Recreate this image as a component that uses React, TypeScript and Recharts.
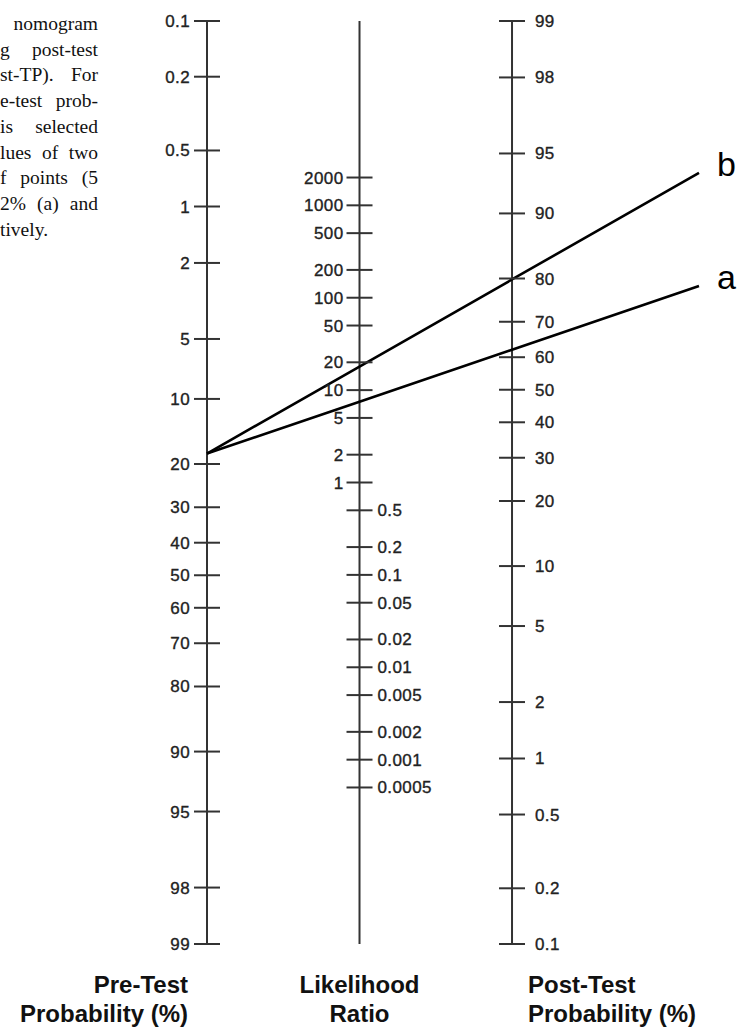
import { ComposedChart, XAxis, YAxis, Scatter, Line, ReferenceLine, LabelList } from "recharts"

// scale labels (percent for the two probability scales)
const preTicks = [0.1, 0.2, 0.5, 1, 2, 5, 10, 20, 30, 40, 50, 60, 70, 80, 90, 95, 98, 99]
const lrTicks = [2000, 1000, 500, 200, 100, 50, 20, 10, 5, 2, 1, 0.5, 0.2, 0.1, 0.05, 0.02, 0.01, 0.005, 0.002, 0.001, 0.0005]
const postTicks = [99, 98, 95, 90, 80, 70, 60, 50, 40, 30, 20, 10, 5, 2, 1, 0.5, 0.2, 0.1]

// the two worked examples: same pre-test probability, two likelihood ratios
const preTest = 18
const lineNames = ["a", "b"]
const lineLR = [7.5, 18]

const captionLines = ["nomogram", "g post-test", "st-TP). For", "e-test prob-", "is selected", "lues of two", "f points (5", "2% (a) and", "tively."]

const W = 748
const H = 1032
const FONT = "'Liberation Sans', Arial, sans-serif"

// nomogram geometry: pre-test at x=0, LR at x=0.5, post-test at x=1
const PRE_X = 0
const LR_X = 0.5
const POST_X = 1
const END_X = 1.613 // drawn lines run on past the post-test scale

const logit = (pct: number) => Math.log(pct / (100 - pct))
const pLo = Math.min(...preTicks)
const pHi = Math.max(...preTicks)
// centre both probability scales on the same vertical span
const shift = (-logit(pLo) - logit(pHi)) / 2
const vMax = (logit(pHi) - logit(pLo)) / 2

const preV = (p: number) => -logit(p) - shift
const postV = (p: number) => logit(p) + shift
const lrV = (lr: number) => Math.log(lr) / 2

const preData = preTicks.map((p) => ({ x: PRE_X, y: preV(p), label: String(p), side: "left" }))
const lrData = lrTicks.map((r) => ({ x: LR_X, y: lrV(r), label: String(r), side: r >= 1 ? "left" : "right" }))
const postData = postTicks.map((p) => ({ x: POST_X, y: postV(p), label: String(p), side: "right" }))

const lineData = lineLR.map((lr, i) => {
  const vL = preV(preTest)
  const vR = logit(preTest) + Math.log(lr) + shift
  return [PRE_X, LR_X, POST_X, END_X].map((x) => ({
    x,
    y: vL + (vR - vL) * x,
    tag: x === END_X ? lineNames[i] : undefined,
  }))
})

const makeTick = (leftGap: number, rightGap: number) => (props: any) => {
  const { cx, cy, payload } = props
  if (cx == null || cy == null) return <g />
  const left = payload.side === "left"
  return (
    <g>
      <line x1={cx - 13} x2={cx + 13} y1={cy} y2={cy} stroke="#333" strokeWidth={2} />
      <text
        x={left ? cx - leftGap : cx + rightGap}
        y={cy}
        dy={6}
        textAnchor={left ? "end" : "start"}
        fontFamily={FONT}
        fontSize={17}
        letterSpacing={0.4}
        fill="#222"
        stroke="#222"
        strokeWidth={0.35}
      >
        {payload.label}
      </text>
    </g>
  )
}

const axisTitle = (lines: string[], anchor: "start" | "middle" | "end", dx: number) => (props: any) => {
  const vb = props.viewBox
  if (!vb) return null
  const x = vb.x + dx
  const base = vb.y + vb.height
  return (
    <text x={x} y={base + 49} textAnchor={anchor} fontFamily={FONT} fontWeight="bold" fontSize={24} fill="#111">
      {lines.map((l, i) => (
        <tspan key={i} x={x} dy={i === 0 ? 0 : 29}>
          {l}
        </tspan>
      ))}
    </text>
  )
}

export default function App() {
  return (
    <div style={{ position: "absolute", left: 0, top: 0, width: W, height: H, background: "#fff", overflow: "hidden" }}>
      <div
        style={{
          position: "absolute",
          left: 0,
          top: 11,
          width: 98,
          fontFamily: "'Liberation Serif', 'Times New Roman', serif",
          fontSize: 19.5,
          lineHeight: "25.7px",
          color: "#111",
        }}
      >
        {captionLines.map((t, i) => {
          const align = i === 0 ? "right" : i === captionLines.length - 1 ? "left" : "justify"
          return (
            <div key={i} style={{ whiteSpace: "nowrap", textAlign: align, textAlignLast: align }}>
              {t}
            </div>
          )
        })}
      </div>

      <ComposedChart width={W} height={H} margin={{ top: 21, right: 49, bottom: 88, left: 207 }}>
        <XAxis type="number" dataKey="x" domain={[PRE_X, END_X]} hide />
        <YAxis type="number" dataKey="y" domain={[-vMax, vMax]} hide />

        <ReferenceLine x={PRE_X} stroke="#333" strokeWidth={2} label={axisTitle(["Pre-Test", "Probability (%)"], "end", -19)} />
        <ReferenceLine x={LR_X} stroke="#333" strokeWidth={2} label={axisTitle(["Likelihood", "Ratio"], "middle", 0)} />
        <ReferenceLine x={POST_X} stroke="#333" strokeWidth={2} label={axisTitle(["Post-Test", "Probability (%)"], "start", 16)} />

        <Scatter data={preData} shape={makeTick(17, 0)} isAnimationActive={false} />
        <Scatter data={lrData} shape={makeTick(16, 18)} isAnimationActive={false} />
        <Scatter data={postData} shape={makeTick(0, 23)} isAnimationActive={false} />

        {lineData.map((pts, i) => (
          <Line
            key={lineNames[i]}
            data={pts}
            dataKey="y"
            type="linear"
            stroke="#000"
            strokeWidth={2.6}
            dot={false}
            activeDot={false}
            isAnimationActive={false}
          >
            <LabelList
              dataKey="tag"
              content={(p: any) =>
                p.value ? (
                  <text x={p.x + 18} y={p.y + 3} fontFamily={FONT} fontSize={34} fill="#000">
                    {p.value}
                  </text>
                ) : null
              }
            />
          </Line>
        ))}
      </ComposedChart>
    </div>
  )
}
